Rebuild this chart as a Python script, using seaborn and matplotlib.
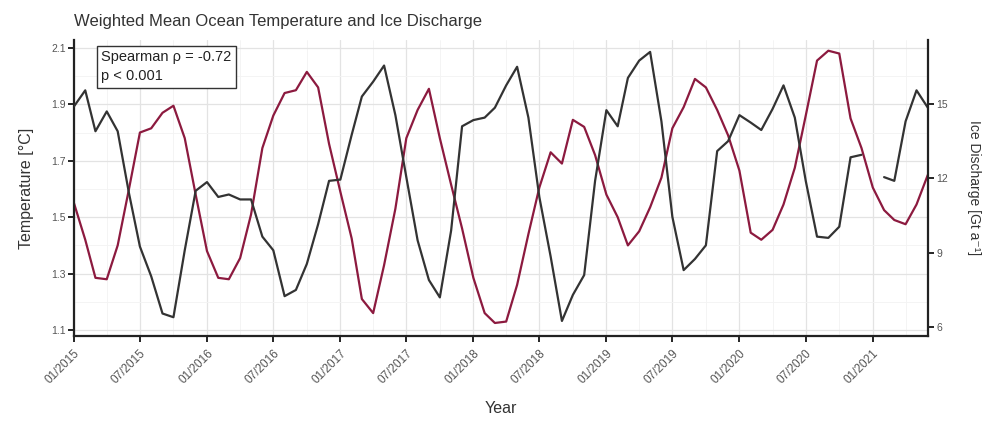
import numpy as np
import pandas as pd
import matplotlib
matplotlib.use("Agg")
import matplotlib.pyplot as plt
import matplotlib.dates as mdates
from matplotlib.ticker import MultipleLocator
import seaborn as sns

# Monthly series, January 2015 - June 2021
months = pd.date_range("2015-01-01", periods=78, freq="MS")

temperature = [
    1.55, 1.42, 1.285, 1.28, 1.40, 1.60, 1.80, 1.815, 1.87, 1.895, 1.78, 1.58,
    1.38, 1.285, 1.28, 1.355, 1.51, 1.745, 1.86, 1.94, 1.95, 2.015, 1.96, 1.76,
    1.59, 1.425, 1.21, 1.16, 1.33, 1.53, 1.78, 1.88, 1.955, 1.78, 1.615, 1.46,
    1.285, 1.16, 1.125, 1.13, 1.26, 1.44, 1.605, 1.73, 1.69, 1.845, 1.82, 1.72,
    1.58, 1.50, 1.40, 1.45, 1.535, 1.64, 1.815, 1.89, 1.99, 1.96, 1.88, 1.79,
    1.665, 1.445, 1.42, 1.455, 1.545, 1.675, 1.86, 2.055, 2.09, 2.08, 1.85, 1.745,
    1.605, 1.525, 1.49, 1.475, 1.545, 1.65,
]

discharge = [
    14.9, 15.55, 13.9, 14.7, 13.9, 11.4, 9.25, 8.05, 6.55, 6.4, 9.1, 11.5,
    11.85, 11.25, 11.35, 11.15, 11.15, 9.65, 9.1, 7.25, 7.5, 8.55, 10.15, 11.9,
    11.95, 13.75, 15.3, 15.9, 16.55, 14.55, 12.05, 9.5, 7.9, 7.2, 9.9, 14.1,
    14.35, 14.45, 14.85, 15.75, 16.5, 14.45, 11.25, 8.85, 6.25, 7.3, 8.1, 11.9,
    14.75, 14.1, 16.05, 16.75, 17.1, 14.3, 10.45, 8.3, 8.75, 9.3, 13.1, 13.5,
    14.55, 14.25, 13.95, 14.8, 15.75, 14.45, 11.9, 9.65, 9.6, 10.05, 12.85, 12.95,
    np.nan, 12.05, 11.9, 14.3, 15.55, 14.85,
]

temp_ticks = [1.1, 1.3, 1.5, 1.7, 1.9, 2.1]
discharge_ticks = [6, 9, 12, 15]

df = pd.DataFrame({"date": months, "temperature": temperature, "discharge": discharge})
# a missing month splits the discharge record into separate runs
df["run"] = df["discharge"].isna().cumsum()
dis = df.dropna(subset=["discharge"])

sns.set_theme(style="white")
plt.rcParams["font.family"] = ["Liberation Sans", "DejaVu Sans"]

TEMP_COLOR = "#8c1a3f"
DIS_COLOR = "#333333"
TICK_TEXT = "#555555"

fig = plt.figure(figsize=(9.86, 4.21), dpi=100)
ax = fig.add_axes([0.075, 0.202, 0.866, 0.703])
ax2 = ax.twinx()

# grid drawn on the primary axes, behind the lines
ax.set_axisbelow(True)
ax.grid(True, which="major", color="#e3e3e3", linewidth=0.9)
ax.grid(True, which="minor", color="#f3f3f3", linewidth=0.6)

sns.lineplot(data=df, x="date", y="temperature", ax=ax, color=TEMP_COLOR, linewidth=1.6)
sns.lineplot(data=dis, x="date", y="discharge", units="run", estimator=None,
             ax=ax2, color=DIS_COLOR, linewidth=1.6)

ax.set_xlim(months[0], months[-1])
ax.set_ylim(1.079, 2.128)
ax2.set_ylim(5.645, 17.58)

ax.set_yticks(temp_ticks)
ax.set_yticklabels([f"{t:.1f}" for t in temp_ticks])
ax.yaxis.set_minor_locator(MultipleLocator(0.1))
ax2.set_yticks(discharge_ticks)
ax2.set_yticklabels([str(t) for t in discharge_ticks])

ax.xaxis.set_major_locator(mdates.MonthLocator(bymonth=[1, 7]))
ax.xaxis.set_minor_locator(mdates.MonthLocator(bymonth=[4, 10]))
ax.xaxis.set_major_formatter(mdates.DateFormatter("%m/%Y"))
for lbl in ax.get_xticklabels():
    lbl.set_rotation(45)
    lbl.set_ha("right")
    lbl.set_rotation_mode("anchor")

ax.tick_params(axis="x", which="major", direction="out", length=4, width=1.2,
               color="black", labelsize=8.5, labelcolor=TICK_TEXT, pad=4, bottom=True)
ax.tick_params(axis="x", which="minor", length=0)
ax.tick_params(axis="y", which="major", direction="out", length=4, width=1.2,
               color="black", labelsize=7.5, labelcolor=TICK_TEXT, left=True, pad=2)
ax.tick_params(axis="y", which="minor", length=0)
ax2.tick_params(axis="y", which="major", direction="out", length=4, width=1.2,
                color="black", labelsize=7.5, labelcolor=TICK_TEXT, right=True, pad=2)

for a in (ax, ax2):
    a.spines["top"].set_visible(False)
ax.spines["right"].set_visible(False)
ax2.spines["left"].set_visible(False)
ax2.spines["bottom"].set_visible(False)
for sp in ("left", "bottom"):
    ax.spines[sp].set_color("#222222")
    ax.spines[sp].set_linewidth(1.6)
ax2.spines["right"].set_color("#222222")
ax2.spines["right"].set_linewidth(1.6)

ax.set_xlabel("")
fig.text(0.508, 0.03, "Year", fontsize=11.5, color="#333333", ha="center", va="center")
ax.set_ylabel("Temperature [°C]", fontsize=11.5, color="#333333", labelpad=12)
ax2.set_ylabel("Ice Discharge [Gt a⁻¹]", fontsize=10, color="#333333",
               rotation=270, labelpad=24)

fig.text(0.075, 0.95, "Weighted Mean Ocean Temperature and Ice Discharge",
         fontsize=12, color="#333333", ha="left", va="center")

ax.text(0.032, 0.965, "Spearman ρ = -0.72\np < 0.001", transform=ax.transAxes,
        fontsize=10.5, color="#222222", ha="left", va="top", linespacing=1.45,
        bbox=dict(boxstyle="square,pad=0.3", facecolor="white",
                  edgecolor="#333333", linewidth=1.0), zorder=10)

fig.savefig("out.png", dpi=100)
